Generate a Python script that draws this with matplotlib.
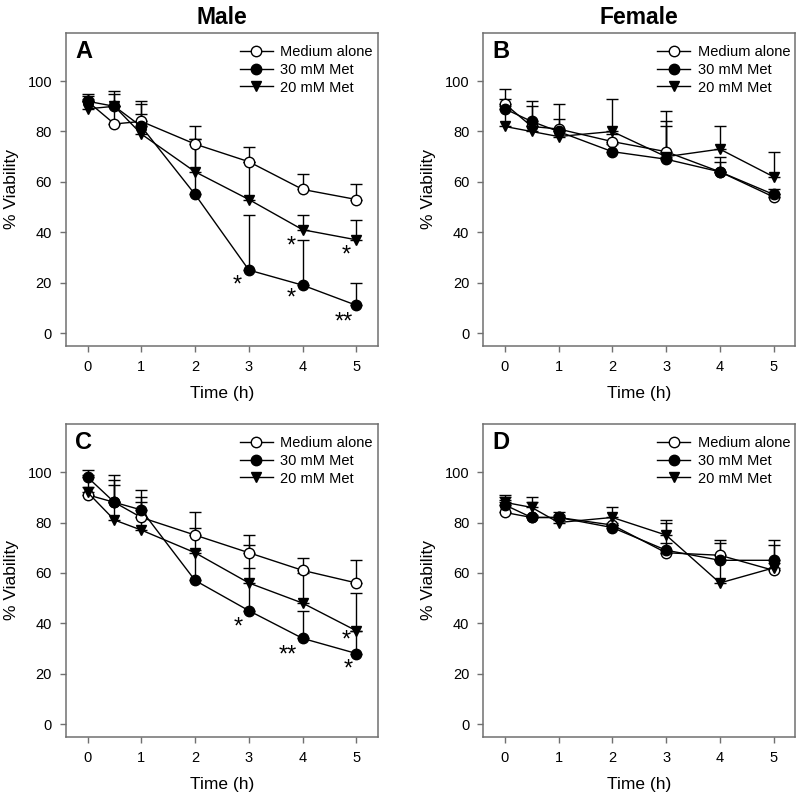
import numpy as np
import matplotlib
matplotlib.use('Agg')
import matplotlib.pyplot as plt

plt.rcParams['font.family'] = ['Liberation Sans', 'DejaVu Sans']

time = [0, 0.5, 1, 2, 3, 4, 5]
labels = ['Medium alone', '30 mM Met', '20 mM Met']

# panel A (male)
A_med = [92, 83, 84, 75, 68, 57, 53]
A_med_err = [3, 7, 8, 7, 6, 6, 6]
A_30 = [92, 90, 82, 55, 25, 19, 11]
A_30_err = [2, 6, 9, 22, 22, 18, 9]
A_20 = [89, 90, 79, 64, 53, 41, 37]
A_20_err = [4, 5, 8, 13, 15, 6, 8]

# panel B (female)
B_med = [91, 82, 81, 76, 72, 64, 54]
B_med_err = [6, 8, 10, 3, 16, 6, 1]
B_30 = [89, 84, 80, 72, 69, 64, 55]
B_30_err = [4, 8, 5, 3, 15, 4, 2]
B_20 = [82, 80, 78, 80, 70, 73, 62]
B_20_err = [8, 2, 2, 13, 12, 9, 10]

# panel C (male)
C_med = [91, 88, 82, 75, 68, 61, 56]
C_med_err = [8, 9, 8, 9, 7, 5, 9]
C_30 = [98, 88, 85, 57, 45, 34, 28]
C_30_err = [3, 11, 8, 12, 17, 11, 9]
C_20 = [92, 81, 77, 68, 56, 48, 37]
C_20_err = [2, 14, 11, 10, 15, 12, 15]

# panel D (female)
D_med = [84, 82, 82, 79, 68, 67, 61]
D_med_err = [5, 6, 2, 1, 12, 6, 10]
D_30 = [87, 82, 82, 78, 69, 65, 65]
D_30_err = [3, 1, 1, 1, 3, 7, 8]
D_20 = [88, 86, 80, 82, 75, 56, 62]
D_20_err = [3, 4, 1, 4, 6, 9, 2]

# significance marks (x, y, text)
A_stars = [(2.78, 22, '*'), (3.78, 37.6, '*'), (3.78, 17, '*'), (4.81, 34, '*'), (4.76, 7.5, '**')]
C_stars = [(2.8, 41.3, '*'), (3.72, 30.2, '**'), (4.8, 36.1, '*'), (4.85, 24.7, '*')]

panels = [
    ('A', [A_med, A_30, A_20], [A_med_err, A_30_err, A_20_err], A_stars),
    ('B', [B_med, B_30, B_20], [B_med_err, B_30_err, B_20_err], []),
    ('C', [C_med, C_30, C_20], [C_med_err, C_30_err, C_20_err], C_stars),
    ('D', [D_med, D_30, D_20], [D_med_err, D_30_err, D_20_err], []),
]
boxes = [[0.0825, 0.5663, 0.39, 0.392], [0.604, 0.5663, 0.39, 0.392],
         [0.0825, 0.0757, 0.39, 0.392], [0.604, 0.0757, 0.39, 0.392]]
styles = [dict(marker='o', mfc='white'), dict(marker='o', mfc='black'), dict(marker='v', mfc='black')]

fig = plt.figure(figsize=(8, 7.97), dpi=100)
for (letter, series, errs, stars), box in zip(panels, boxes):
    ax = fig.add_axes(box)
    for vals, err, st, lab in zip(series, errs, styles, labels):
        ax.errorbar(time, vals, yerr=[np.zeros(len(err)), err], color='black', lw=1,
                    marker=st['marker'], mfc=st['mfc'], mec='black', ms=7.5,
                    ecolor='black', elinewidth=1, capsize=4, capthick=1, label=lab)
    for x, y, s in stars:
        ax.annotate(s, (x, y), xytext=(0, -10), textcoords='offset points',
                    ha='center', va='baseline', fontsize=17)
    ax.set_xlim(-0.4, 5.4)
    ax.set_ylim(-5, 119)
    ax.set_xticks(range(6))
    ax.set_yticks(range(0, 101, 20))
    ax.tick_params(direction='out', length=4, width=1, color='#707070', labelsize=10.5, pad=6)
    for sp in ax.spines.values():
        sp.set_color('#707070')
        sp.set_linewidth(1.1)
    ax.set_xlabel('Time (h)', fontsize=12.5, labelpad=9)
    ax.set_ylabel('% Viability', fontsize=12.5)
    ax.yaxis.set_label_coords(-0.15, 0.5)
    ax.text(0.03, 0.94, letter, transform=ax.transAxes, fontsize=17, fontweight='bold',
            ha='left', va='center')
    h, l = ax.get_legend_handles_labels()
    ax.legend([x[0] for x in h], l, loc='upper right', bbox_to_anchor=(1.0, 0.978),
              frameon=False, fontsize=10.5, handlelength=2.3, labelspacing=0.25,
              borderaxespad=0.15, borderpad=0.2, handletextpad=0.5)
    if letter == 'A':
        ax.text(0.5, 1.05, 'Male', transform=ax.transAxes, fontsize=16.5, fontweight='bold',
                ha='center', va='center')
    if letter == 'B':
        ax.text(0.5, 1.05, 'Female', transform=ax.transAxes, fontsize=16.5, fontweight='bold',
                ha='center', va='center')

plt.savefig('out.png', dpi=100)
